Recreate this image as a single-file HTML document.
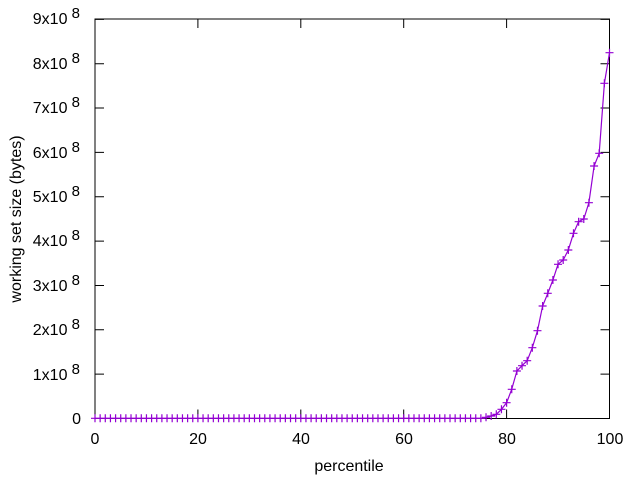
<!DOCTYPE html>
<html><head><meta charset="utf-8"><style>
body{margin:0;background:#fff}
svg{display:block;font-family:"Liberation Sans",sans-serif;font-size:16px}
</style></head><body>
<svg id="s" width="640" height="480" xmlns="http://www.w3.org/2000/svg">
<g id="ticks" stroke="#000" stroke-width="1"></g>
<rect x="95" y="19" width="514.5" height="399.5" fill="none" stroke="#000" stroke-width="1"/>
<g text-anchor="end" fill="#000">
<text x="81" y="424">0</text>
<text x="80" y="380">1x10<tspan dy="-6" font-size="15"> 8</tspan></text>
<text x="80" y="335">2x10<tspan dy="-6" font-size="15"> 8</tspan></text>
<text x="80" y="291">3x10<tspan dy="-6" font-size="15"> 8</tspan></text>
<text x="80" y="246">4x10<tspan dy="-6" font-size="15"> 8</tspan></text>
<text x="80" y="202">5x10<tspan dy="-6" font-size="15"> 8</tspan></text>
<text x="80" y="158">6x10<tspan dy="-6" font-size="15"> 8</tspan></text>
<text x="80" y="113">7x10<tspan dy="-6" font-size="15"> 8</tspan></text>
<text x="80" y="69">8x10<tspan dy="-6" font-size="15"> 8</tspan></text>
<text x="80" y="24">9x10<tspan dy="-6" font-size="15"> 8</tspan></text>
</g>
<g text-anchor="middle" fill="#000">
<text x="95" y="444">0</text>
<text x="198" y="444">20</text>
<text x="301" y="444">40</text>
<text x="404" y="444">60</text>
<text x="507" y="444">80</text>
<text x="610" y="444">100</text>
<text x="349" y="471">percentile</text>
<text transform="translate(21,219) rotate(-90)">working set size (bytes)</text>
</g>
<polyline id="line" fill="none" stroke="#9400d3" stroke-width="1.2"/>
<path id="marks" fill="none" stroke="#9400d3" stroke-width="1.2"/>
</svg>
<script>
var ys={71:418.3,72:418.3,73:418.3,74:418.3,75:418.3,76:417.3,77:416,78:414.3,79:409.3,80:402.7,81:389.3,82:371,83:365.7,84:360.7,85:347.7,86:330.7,87:306,88:293.3,89:280,90:264.3,91:260,92:250,93:233.3,94:221.7,95:219,96:202.7,97:166,98:153.3,99:83.3,100:52.7};
var pts=[],d="";
for(var i=0;i<=100;i++){var x=95+5.145*i,y=ys[i]||418.3;pts.push(x.toFixed(1)+","+y);d+="M"+(x-4)+","+y+"h8M"+x+","+(y-4)+"v8";}
document.getElementById("line").setAttribute("points",pts.join(" "));
document.getElementById("marks").setAttribute("d",d);
var t="";
for(var k=0;k<=9;k++){var y=418.5-44.35*k;t+="M95,"+y+"h9M609.5,"+y+"h-9";}
for(var k=0;k<=5;k++){var x=95+102.9*k;t+="M"+x+",418.5v-9M"+x+",19v9";}
var p=document.createElementNS("http://www.w3.org/2000/svg","path");p.setAttribute("d",t);document.getElementById("ticks").appendChild(p);
</script>
</body></html>
